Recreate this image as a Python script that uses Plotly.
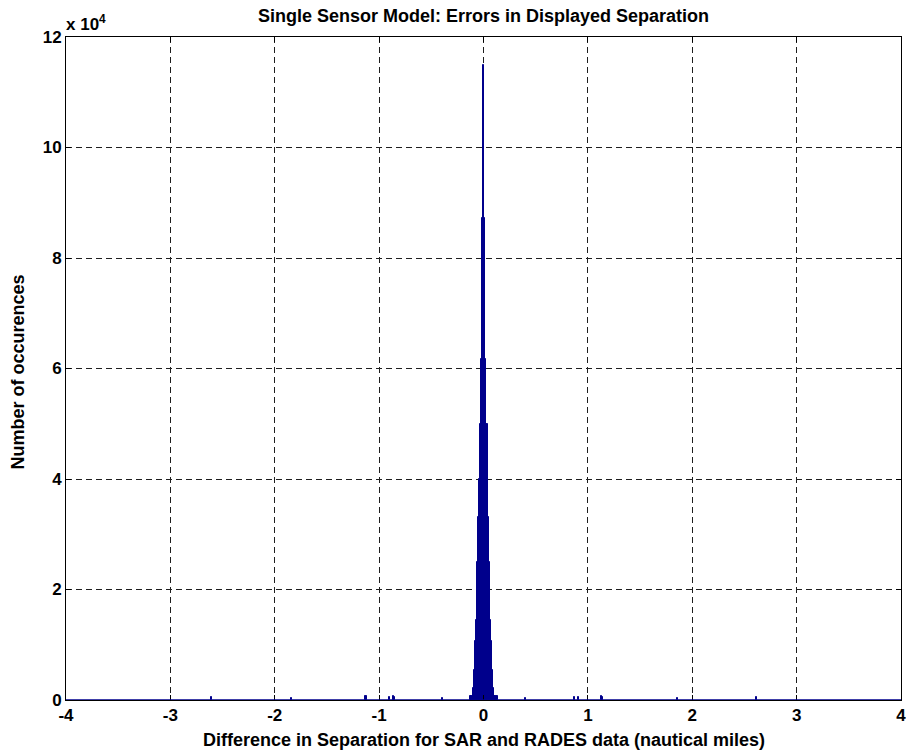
import plotly.graph_objects as go

# Histogram of separation errors (bin width 0.01 nmi)
core_centers = [-0.12, -0.11, -0.10, -0.09, -0.08, -0.07, -0.06, -0.05, -0.04, -0.03,
                -0.02, -0.01, 0.00, 0.01, 0.02, 0.03, 0.04, 0.05, 0.06, 0.07,
                0.08, 0.09, 0.10, 0.11, 0.12, 0.13]
core_counts = [700, 700, 2200, 5400, 10600, 14400, 25000, 33200, 40000, 50000,
               61700, 87200, 115000, 87200, 61700, 50000, 50000, 33200, 25000, 14400,
               10600, 5400, 2200, 700, 700, 700]

# Sparse outlier bins away from the main peak
tail_centers = [-2.61, -1.84, -1.13, -1.12, -0.90, -0.86, -0.85, -0.39,
                0.40, 0.87, 0.91, 1.13, 1.14, 1.855, 2.62]
tail_counts = [500, 400, 700, 700, 600, 700, 600, 450,
               450, 500, 600, 650, 600, 400, 500]

x_ticks = [-4, -3, -2, -1, 0, 1, 2, 3, 4]
x_ticklabels = ["-4", "-3", "-2", "-1", "0", "1", "2", "3", "4"]
y_ticks = [0, 20000, 40000, 60000, 80000, 100000, 120000]
y_ticklabels = ["0", "2", "4", "6", "8", "10", "12"]

bar_color = "rgb(0,0,140)"
font_family = "Liberation Sans, Arial, sans-serif"


def bold(size):
    return dict(family=font_family, size=size, color="black", weight="bold")


fig = go.Figure()
fig.add_trace(go.Bar(
    x=core_centers + tail_centers,
    y=core_counts + tail_counts,
    width=0.01,
    marker=dict(color=bar_color, line=dict(color=bar_color, width=1)),
    showlegend=False,
))

# zero-height bins appear as a line along the baseline
fig.add_shape(type="line", xref="x", yref="y", x0=-4, x1=4, y0=0, y1=0,
              line=dict(color=bar_color, width=1.5))

axis_common = dict(
    showline=True, linecolor="black", linewidth=1, mirror="ticks",
    ticks="inside", ticklen=5, tickcolor="black",
    showgrid=True, gridcolor="rgb(30,30,30)", gridwidth=1, griddash="6px,4px",
    zeroline=False, ticklabeloverflow="allow",
    tickfont=bold(17),
)

fig.update_xaxes(range=[-4, 4], tickvals=x_ticks, ticktext=x_ticklabels, **axis_common)
fig.update_yaxes(range=[0, 120000], tickvals=y_ticks, ticktext=y_ticklabels, **axis_common)

fig.update_layout(
    width=906, height=753,
    margin=dict(l=66, r=5, t=37, b=53, autoexpand=False),
    plot_bgcolor="white", paper_bgcolor="white",
    bargap=0,
    title=dict(text="Single Sensor Model: Errors in Displayed Separation",
               x=0.5337, xanchor="center", y=1 - 16 / 753, yanchor="middle",
               font=bold(18)),
    annotations=[
        dict(text="x 10<sup>4</sup>", xref="paper", yref="paper",
             x=0, y=1, xanchor="left", yanchor="bottom", showarrow=False,
             xshift=-2, yshift=1, font=bold(17)),
        dict(text="Difference in Separation for SAR and RADES data (nautical miles)",
             xref="paper", yref="paper", x=0.5, y=0, xanchor="center", yanchor="middle",
             yshift=-40, showarrow=False, font=bold(18)),
        dict(text="Number of occurences", xref="paper", yref="paper",
             x=0, y=0.5, xanchor="center", yanchor="middle", textangle=-90,
             xshift=-49, yshift=-4, showarrow=False, font=bold(18)),
    ],
)

fig.write_html("out.html")
